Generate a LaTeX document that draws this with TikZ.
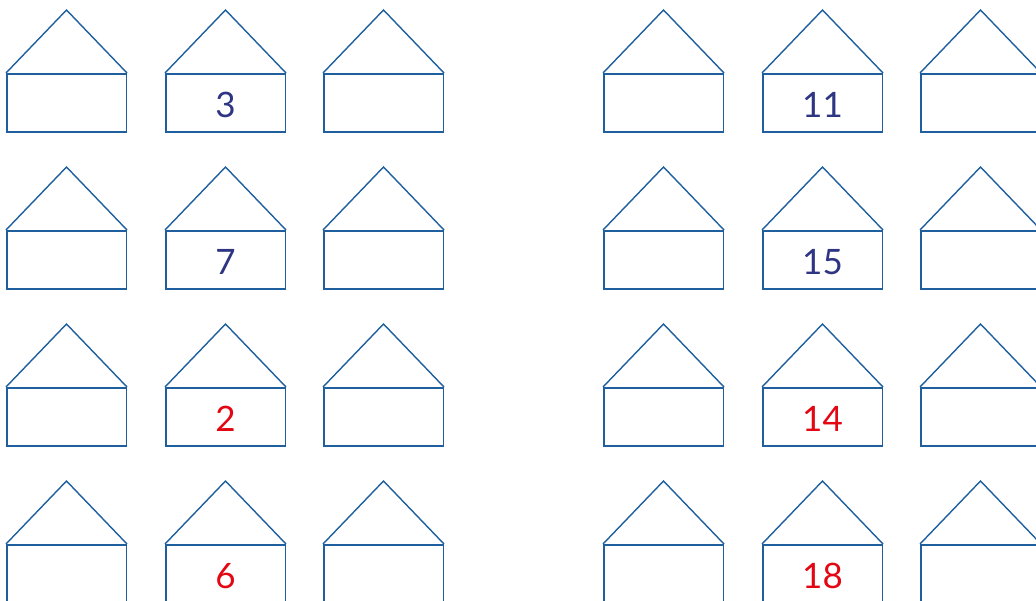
\documentclass[tikz,border=0pt]{standalone}
\usepackage{fontspec}
\setmainfont{Lato}
\usetikzlibrary{calc}
\definecolor{hline}{HTML}{1F5F9E}
\definecolor{navy}{HTML}{2E3583}
\definecolor{redn}{HTML}{E30613}
\begin{document}
\begin{tikzpicture}[x=1pt,y=-1pt,
  housebox/.style={draw=hline,line width=1.5pt,minimum width=119.5pt,minimum height=58pt,inner sep=0pt,anchor=north west,font=\fontsize{35}{35}\selectfont,text depth=0pt,text height=24.5pt},
  roof/.style={draw=hline,line width=1.4pt,line join=miter}]
\useasboundingbox (0,0) rectangle (1036,600);
\clip (0,0) rectangle (1036,600);
\foreach \r/\ytop/\lnum/\rnum/\col in {1/73/3/11/navy,2/230/7/15/navy,3/387/2/14/redn,4/544/6/18/redn}{
  \foreach \c/\xl in {1/6,2/165,3/323,4/603,5/762,6/920}{
    \ifnum\c=2
      \node[housebox,text=\col] (h\r\c) at (\xl,\ytop) {\raisebox{-2pt}{\lnum}};
    \else\ifnum\c=5
      \node[housebox,text=\col] (h\r\c) at (\xl,\ytop) {\raisebox{-2pt}{\rnum}};
    \else
      \node[housebox] (h\r\c) at (\xl,\ytop) {};
    \fi\fi
    \coordinate (a\r\c) at ($(h\r\c.north)+(0,-63)$);
    \draw[roof] (h\r\c.north west) -- (a\r\c) -- (h\r\c.north east);
  }
}
\end{tikzpicture}
\end{document}
